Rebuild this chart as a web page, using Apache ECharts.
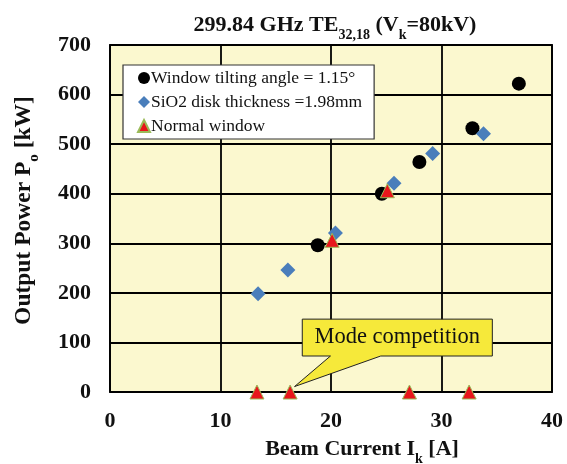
<!DOCTYPE html>
<html><head><meta charset="utf-8">
<script src="https://cdn.jsdelivr.net/npm/echarts@6/dist/echarts.min.js"></script>
<style>html,body{margin:0;padding:0;background:#fff}#c{width:567px;height:464px}</style>
</head><body><div id="c"></div>
<script>
const xTicks = [0, 10, 20, 30, 40];
const yTicks = [0, 100, 200, 300, 400, 500, 600, 700];
const tiltI = [18.8, 24.6, 28.0, 32.8, 37.0];
const tiltP = [296, 400, 464, 532, 622];
const sioI = [13.4, 16.1, 20.4, 25.7, 29.2, 33.8];
const sioP = [198, 246, 321, 421, 481, 521];
const normI = [13.3, 16.3, 20.1, 25.1, 27.1, 32.5];
const normP = [0, 0, 306, 406, 0, 0];
const seriesNames = ['Window tilting angle = 1.15°', 'SiO2 disk thickness =1.98mm', 'Normal window'];
const annotationText = 'Mode competition';

const F = '"Liberation Serif","Times New Roman",serif';
const pair = (a, b) => a.map((v, i) => [v, b[i]]);
const rich = (big, small, lh) => ({
  a: {fontFamily: F, fontSize: big, fontWeight: 'bold', color: '#111', lineHeight: lh, verticalAlign: 'bottom'},
  s: {fontFamily: F, fontSize: small, fontWeight: 'bold', color: '#111', lineHeight: lh, verticalAlign: 'bottom', padding: [0, 0, -6, 0]}
});
const chart = echarts.init(document.getElementById('c'));
const option = {
  animation: false,
  backgroundColor: '#fff',
  title: {
    text: '{a|299.84 GHz TE}{s|32,18}{a| (V}{s|k}{a|=80kV)}',
    left: 330, textAlign: 'center', top: 5,
    textStyle: {rich: rich(22, 14, 26)}
  },
  grid: {left: 110, right: 15, top: 45, bottom: 72, containLabel: false, outerBoundsMode: 'none',
         show: true, backgroundColor: '#fbf8cf', borderColor: '#000', borderWidth: 1.8},
  legend: {
    orient: 'vertical', left: 123, top: 65,
    backgroundColor: '#fff', borderColor: '#333', borderWidth: 1.2, borderRadius: 0,
    padding: [4, 12, 4, 14], itemGap: 6, itemWidth: 12, itemHeight: 12,
    textStyle: {fontFamily: F, fontSize: 17.5, color: '#111', padding: [0, 12, 0, -4]},
    data: seriesNames
  },
  xAxis: {
    type: 'value', min: xTicks[0], max: xTicks[xTicks.length - 1], interval: 10,
    name: '{a|Beam Current I}{s|k}{a| [A]}', nameLocation: 'middle', nameGap: 44,
    nameTextStyle: {rich: rich(22, 14, 24), padding: [0, 0, 0, 62]},
    axisLine: {show: false}, axisTick: {show: false},
    axisLabel: {fontFamily: F, fontSize: 22, fontWeight: 'bold', color: '#111', margin: 18},
    splitLine: {lineStyle: {color: '#000', width: 1.8}}
  },
  yAxis: {
    type: 'value', min: yTicks[0], max: yTicks[yTicks.length - 1], interval: 100,
    name: '{a|Output Power P}{s|o}{a| [kW]}', nameLocation: 'middle', nameGap: 74, nameRotate: 90,
    nameTextStyle: {rich: rich(23.5, 15, 24), padding: [0, 0, 0, 16]},
    axisLine: {show: false}, axisTick: {show: false},
    axisLabel: {fontFamily: F, fontSize: 22, fontWeight: 'bold', color: '#111', margin: 19},
    splitLine: {lineStyle: {color: '#000', width: 1.8}}
  },
  series: [
    {name: seriesNames[0], type: 'scatter', symbol: 'circle', symbolSize: 14, z: 3,
     itemStyle: {color: '#000', opacity: 1}, data: pair(tiltI, tiltP)},
    {name: seriesNames[1], type: 'scatter', symbol: 'diamond', symbolSize: 15, z: 4,
     itemStyle: {color: '#4a7ebb', opacity: 1}, data: pair(sioI, sioP)},
    {name: seriesNames[2], type: 'scatter', symbol: 'triangle', symbolSize: 14, z: 5,
     itemStyle: {color: '#e8161c', borderColor: '#9bbb59', borderWidth: 1, opacity: 1}, data: pair(normI, normP)}
  ]
};
chart.setOption(option);

// callout in data coordinates
const box = {x0: 17.4, x1: 34.6, y0: 72.6, y1: 147};
const tail = {b0: 19.95, b1: 24.5, tipX: normI[1] + 0.4, tipY: 11};
const p = (x, y) => chart.convertToPixel({gridIndex: 0}, [x, y]);
const A = p(box.x0, box.y1), B = p(box.x1, box.y1), C = p(box.x1, box.y0), D = p(box.x0, box.y0);
const T0 = p(tail.b0, box.y0), T1 = p(tail.b1, box.y0), TT = p(tail.tipX, tail.tipY);
chart.setOption({graphic: [
  {type: 'polygon', z: 100, shape: {points: [A, B, C, T1, TT, T0, D]},
   style: {fill: '#f6e93a', stroke: '#222', lineWidth: 1}},
  {type: 'text', z: 101, x: (A[0] + B[0]) / 2, y: (A[1] + D[1]) / 2,
   style: {text: annotationText, fontFamily: F, fontSize: 22.5, fill: '#111', align: 'center', verticalAlign: 'middle'}}
]});
</script></body></html>
